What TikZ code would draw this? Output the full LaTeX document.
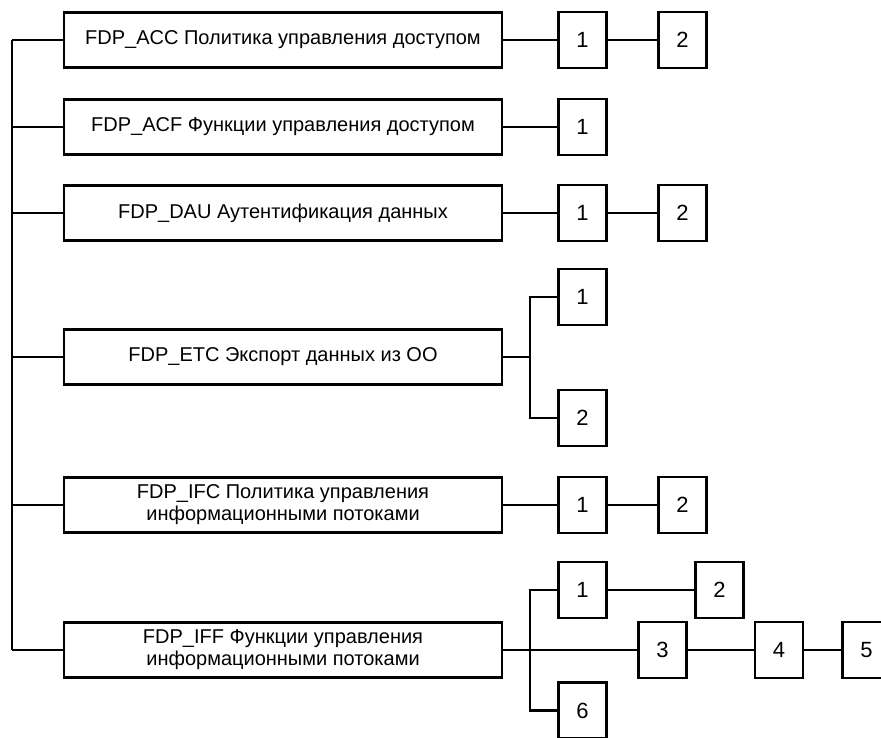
\documentclass[tikz,border=0pt]{standalone}
\usepackage{fontspec}
\setmainfont{Liberation Sans}
\usepackage{tikz}

\tikzset{
	famblock/.style={draw, line width=2.6pt, minimum width=438pt, minimum height=55pt, inner sep=0pt, align=center, font=\fontsize{20}{22}\selectfont},
	compblock/.style={draw, line width=2.6pt, minimum width=48pt, minimum height=56pt, inner sep=0pt, font=\fontsize{22}{22}\selectfont},
	link/.style={line width=2.2pt}
}

\begin{document}
\begin{tikzpicture}[x=1pt, y=-1pt]
	\useasboundingbox (0,0) rectangle (881,738);
	
	% draw family boxes
	\node[famblock] (acc) at (283,40) {FDP\_ACC Политика управления доступом};
	\node[famblock] (acf) at (283,127) {FDP\_ACF Функции управления доступом};
	\node[famblock] (dau) at (283,213) {FDP\_DAU Аутентификация данных};
	\node[famblock] (etc) at (283,357) {FDP\_ETC Экспорт данных из ОО};
	\node[famblock] (ifc) at (283,505) {FDP\_IFC Политика управления\\информационными потоками};
	\node[famblock] (iff) at (283,650) {FDP\_IFF Функции управления\\информационными потоками};
	
	% draw component boxes
	\node[compblock] (acc1) at (582.5,40) {1};
	\node[compblock] (acc2) at (682.5,40) {2};
	\node[compblock] (acf1) at (582.5,127) {1};
	\node[compblock] (dau1) at (582.5,213) {1};
	\node[compblock] (dau2) at (682.5,213) {2};
	\node[compblock] (etc1) at (582.5,297) {1};
	\node[compblock] (etc2) at (582.5,418) {2};
	\node[compblock] (ifc1) at (582.5,505) {1};
	\node[compblock] (ifc2) at (682.5,505) {2};
	\node[compblock] (iff1) at (582.5,590) {1};
	\node[compblock] (iff2) at (719.5,590) {2};
	\node[compblock] (iff3) at (662.5,650) {3};
	\node[compblock] (iff4) at (779,650) {4};
	\node[compblock] (iff5) at (866.5,650) {5};
	\node[compblock] (iff6) at (582.5,710.5) {6};
	
	% draw class spine
	\coordinate (spinetop) at (12,40);
	\coordinate (spinebot) at (12,650);
	\draw[line width=2.8pt] (spinetop) -- (spinebot);
	\foreach \f in {acc, acf, dau, etc, ifc, iff}
	\draw[line width=2.6pt] (\f.west) -- (\f.west -| spinetop);
	
	% draw component links
	\foreach \a/\b in {acc/acc1, acc1/acc2, acf/acf1, dau/dau1, dau1/dau2, ifc/ifc1, ifc1/ifc2, iff1/iff2, iff/iff3, iff3/iff4, iff4/iff5}
	\draw[link] (\a.east) -- (\b.west);
	
	% draw branches
	\coordinate (etcfork) at (530,357);
	\draw[link] (etc.east) -- (etcfork);
	\draw[link] (etc1.west) -| (etcfork) |- (etc2.west);
	\coordinate (ifffork) at (530,650);
	\draw[link] (iff1.west) -| (ifffork) |- (iff6.west);
\end{tikzpicture}
\end{document}
